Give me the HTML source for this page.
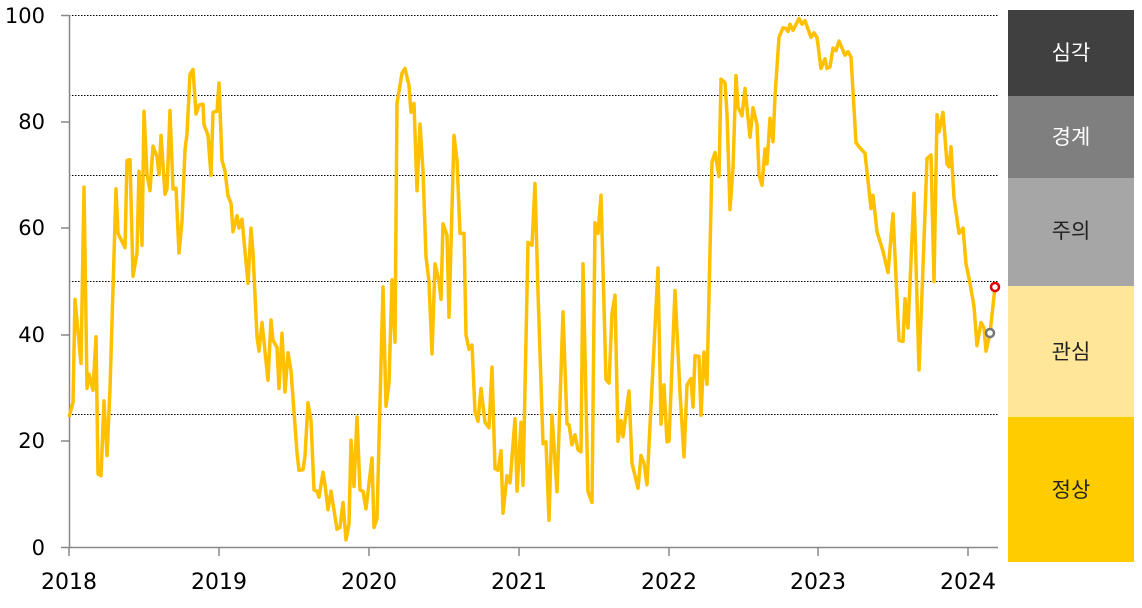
<!DOCTYPE html>
<html><head><meta charset="utf-8"><style>
body{margin:0;background:#fff;width:1142px;height:604px;overflow:hidden;font-family:"DejaVu Sans","Noto Sans CJK KR",sans-serif}
</style></head><body>
<svg id="s" width="1142" height="604" xmlns="http://www.w3.org/2000/svg" font-family="DejaVu Sans, Noto Sans CJK KR, sans-serif">
<g stroke="#000" stroke-width="1" stroke-dasharray="1.5,1.5">
<line x1="69" y1="15.5" x2="998" y2="15.5"/>
<line x1="69" y1="95.5" x2="998" y2="95.5"/>
<line x1="69" y1="175.5" x2="998" y2="175.5"/>
<line x1="69" y1="281.5" x2="998" y2="281.5"/>
<line x1="69" y1="414.5" x2="998" y2="414.5"/>
</g>
<g stroke="#888" stroke-width="1.5">
<line x1="69.5" y1="15" x2="69.5" y2="547"/>
<line x1="61" y1="547.5" x2="998" y2="547.5"/>
<line x1="61" y1="15.5" x2="69" y2="15.5"/>
<line x1="61" y1="122" x2="69" y2="122"/>
<line x1="61" y1="228" x2="69" y2="228"/>
<line x1="61" y1="335" x2="69" y2="335"/>
<line x1="61" y1="441" x2="69" y2="441"/>
<line x1="219" y1="547" x2="219" y2="556"/>
<line x1="369" y1="547" x2="369" y2="556"/>
<line x1="519" y1="547" x2="519" y2="556"/>
<line x1="669" y1="547" x2="669" y2="556"/>
<line x1="818" y1="547" x2="818" y2="556"/>
<line x1="968" y1="547" x2="968" y2="556"/>
<line x1="69" y1="547" x2="69" y2="556"/>
</g>
<g font-size="21" fill="#000" text-anchor="end">
<text x="45" y="23">100</text><text x="45" y="129">80</text><text x="45" y="235">60</text>
<text x="45" y="342">40</text><text x="45" y="448">20</text><text x="45" y="555">0</text>
</g>
<g font-size="22" fill="#000" text-anchor="middle">
<text x="69" y="589">2018</text><text x="219" y="589">2019</text><text x="369" y="589">2020</text>
<text x="519" y="589">2021</text><text x="669" y="589">2022</text><text x="818" y="589">2023</text><text x="968" y="589">2024</text>
</g>
<rect x="1008" y="10" width="126" height="86" fill="#404040"/>
<rect x="1008" y="96" width="126" height="82" fill="#7f7f7f"/>
<rect x="1008" y="178" width="126" height="108" fill="#a6a6a6"/>
<rect x="1008" y="286" width="126" height="131" fill="#ffe699"/>
<rect x="1008" y="417" width="126" height="145" fill="#ffcc00"/>
<g font-size="21" text-anchor="middle">
<text x="1071" y="60" fill="#fff">심각</text>
<text x="1071" y="144" fill="#fff">경계</text>
<text x="1071" y="238" fill="#222">주의</text>
<text x="1071" y="359" fill="#222">관심</text>
<text x="1071" y="497" fill="#222">정상</text>
</g>
<polyline id="ln" fill="none" stroke="#ffc000" stroke-width="3.5" stroke-linejoin="round" points=""/>
<circle cx="990" cy="333" r="4" fill="#fff" stroke="#777" stroke-width="2.5"/>
<circle cx="995" cy="287" r="4" fill="#fff" stroke="#e00000" stroke-width="2.5"/>
</svg>
<script>
var a=[69,1170,73,1130,75,840,81,1020,84,525,87,1090,89,1050,93,1095,96,945,98,1330,101,1335,104,1125,107,1278,110,1090,116,530,118,655,125,695,127,450,130,448,133,775,137,710,139,480,142,688,144,312,147,490,150,535,153,410,157,440,159,490,161,380,165,545,167,530,170,310,173,530,176,528,179,710,182,620,185,420,187,375,190,208,193,195,196,320,199,295,203,292,204,350,208,380,211,492,213,315,217,312,219,233,222,450,225,480,228,550,231,570,233,650,237,605,239,640,242,615,248,795,251,640,253,710,257,945,259,985,262,905,268,1067,271,898,273,955,277,975,279,1090,282,935,285,1100,288,990,291,1040,297,1270,299,1320,303,1318,305,1280,308,1130,311,1180,314,1375,317,1378,319,1395,323,1325,325,1360,328,1430,331,1378,337,1485,340,1480,343,1410,346,1515,349,1470,351,1235,354,1365,357,1170,360,1375,363,1378,366,1428,372,1285,374,1480,377,1455,383,805,386,1140,389,1075,392,785,395,960,397,290,402,205,405,192,409,240,411,315,414,290,417,535,420,348,423,480,426,720,429,790,432,993,435,740,439,790,441,840,443,628,447,660,449,890,454,380,457,450,460,655,464,655,466,940,469,980,472,968,475,1155,478,1182,481,1090,485,1185,489,1200,492,1030,495,1315,498,1320,501,1265,503,1440,507,1335,510,1355,515,1175,517,1378,521,1185,523,1362,528,680,532,688,535,515,538,820,543,1245,546,1240,549,1460,552,1165,557,1380,563,875,567,1190,569,1192,572,1248,575,1220,578,1262,581,1268,583,740,588,1380,592,1410,595,625,598,655,601,548,606,1065,609,1075,612,880,615,828,618,1238,621,1180,623,1225,629,1097,632,1300,638,1370,641,1278,644,1300,647,1360,658,752,661,1190,664,1080,667,1240,669,1238,675,815,680,1100,684,1282,687,1080,691,1062,693,1142,695,998,699,1000,701,1165,704,988,707,1078,712,455,715,428,719,495,721,222,725,232,727,320,730,588,733,470,736,212,738,300,742,325,745,248,750,385,753,302,757,350,759,490,762,520,765,418,767,460,770,332,773,398,775,270,779,105,783,78,786,80,788,88,790,68,793,85,799,52,802,68,805,58,811,105,814,92,817,105,821,192,825,165,827,192,830,188,833,135,836,142,839,115,845,155,848,145,851,160,856,400,860,415,865,430,871,585,873,548,877,650,883,705,888,765,893,600,899,955,903,958,905,838,908,920,914,542,919,1038,923,750,927,445,931,435,934,790,937,322,939,370,943,315,947,460,949,468,951,412,954,555,959,655,963,640,966,740,970,795,974,860,977,970,981,905,984,920,986,985,990,935,995,805];
var p=[];for(var i=0;i<a.length;i+=2){p.push(a[i]+','+(a[i+1]*0.3564).toFixed(1));}
document.getElementById('ln').setAttribute('points',p.join(' '));
</script>
</body></html>
